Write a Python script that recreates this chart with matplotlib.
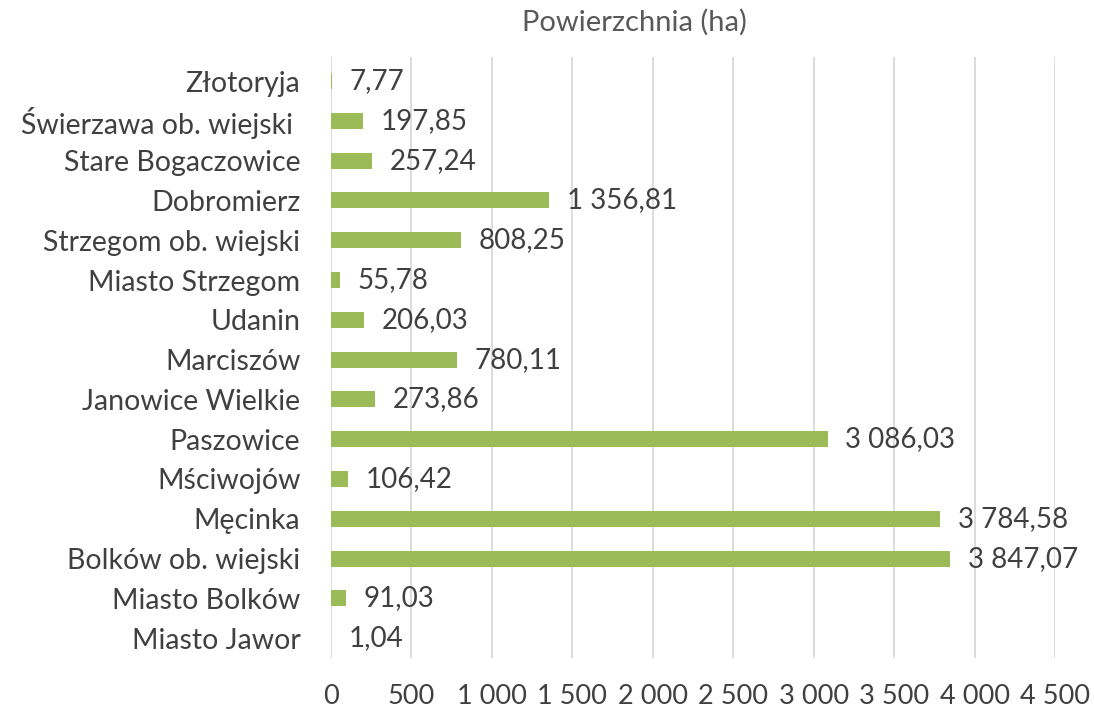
import matplotlib.pyplot as plt
from matplotlib.ticker import FuncFormatter

plt.rcParams['font.family'] = ['Lato', 'DejaVu Sans']

gminy = ['Miasto Jawor', 'Miasto Bolków', 'Bolków ob. wiejski', 'Męcinka', 'Mściwojów',
         'Paszowice', 'Janowice Wielkie', 'Marciszów', 'Udanin', 'Miasto Strzegom',
         'Strzegom ob. wiejski', 'Dobromierz', 'Stare Bogaczowice', 'Świerzawa ob. wiejski ',
         'Złotoryja']
powierzchnia = [1.04, 91.03, 3847.07, 3784.58, 106.42,
                3086.03, 273.86, 780.11, 206.03, 55.78,
                808.25, 1356.81, 257.24, 197.85, 7.77]
xticks = [0, 500, 1000, 1500, 2000, 2500, 3000, 3500, 4000, 4500]


def pl_format(v):
    # polish style: space as thousands separator, comma as decimal
    s = '{:,.2f}'.format(v).replace(',', ' ').replace('.', ',')
    return s


fig = plt.figure(figsize=(10.94, 7.14), dpi=100)
ax = fig.add_axes([0.3026, 0.0784, 0.6618, 0.8415])

ypos = list(range(len(gminy)))
ax.barh(ypos, powierzchnia, height=0.4, color='#9BBB59', zorder=3)

for y, v in zip(ypos, powierzchnia):
    ax.text(v + 110, y, pl_format(v), va='center', ha='left',
            fontsize=20, color='#404040', zorder=4)

ax.set_xlim(0, 4500)
ax.set_ylim(-0.5, 14.6)
ax.set_yticks(ypos)
ax.set_yticklabels(gminy, fontsize=20.5, color='#404040')
ax.set_xticks(xticks)
ax.xaxis.set_major_formatter(FuncFormatter(lambda v, p: '{:,.0f}'.format(v).replace(',', ' ')))
ax.tick_params(axis='x', labelsize=19.5, labelcolor='#404040', length=0, pad=19)
ax.tick_params(axis='y', length=0, pad=22)

ax.grid(axis='x', color='#D9D9D9', linewidth=1.3, zorder=0)
for s in ax.spines.values():
    s.set_visible(False)

fig.text(0.580, 0.969, 'Powierzchnia (ha)', ha='center', va='center',
         fontsize=21, color='#595959')

fig.savefig('out.png', dpi=100)
